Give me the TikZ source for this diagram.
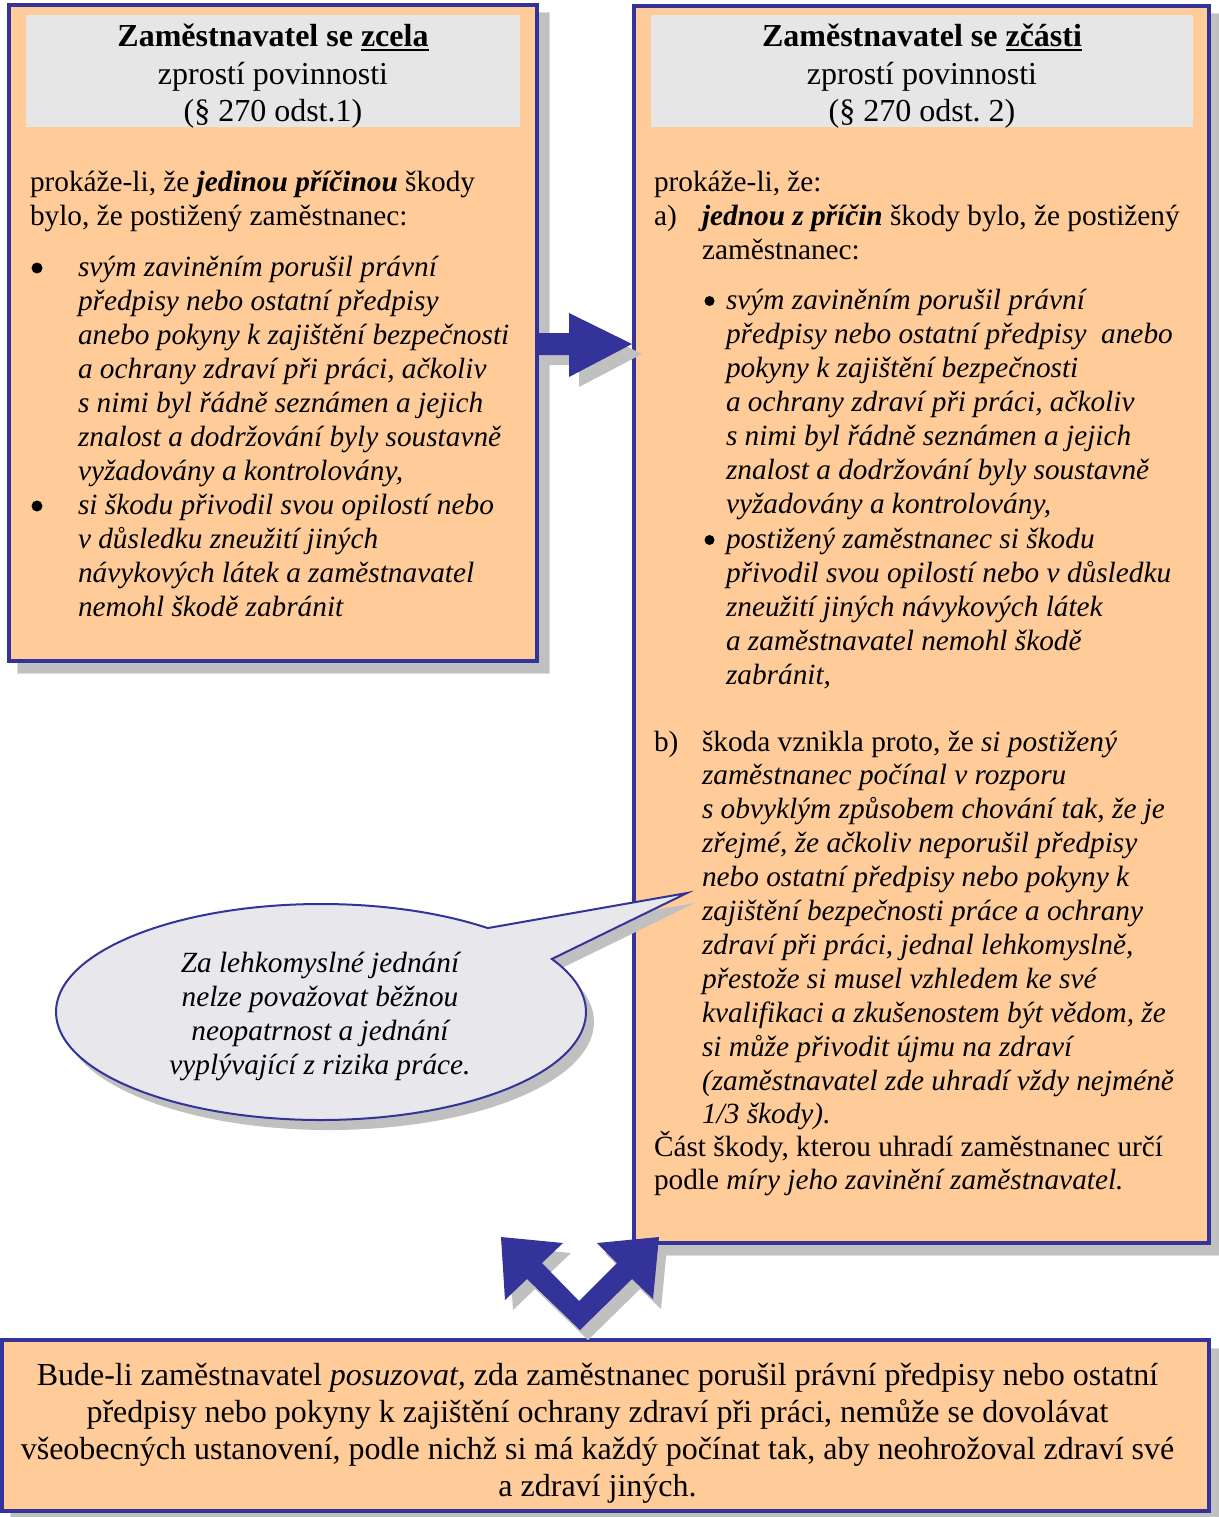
\documentclass[tikz,border=0pt]{standalone}
\usepackage{fontspec}
\setmainfont{Liberation Serif}
\usetikzlibrary{calc}
\definecolor{peach}{HTML}{FFCC99}
\definecolor{boxblue}{HTML}{333399}
\definecolor{hdrgray}{HTML}{E6E6E6}
\definecolor{shgray}{HTML}{C0C0C0}
\definecolor{shedge}{HTML}{DCDCDC}
\definecolor{callgray}{HTML}{E7E7EC}
\frenchspacing
\newcommand\myBody{\fontsize{29.3}{33.9}\selectfont}
\newcommand\myList{\fontsize{29.3}{34}\selectfont}
\newcommand\myBig{\fontsize{32}{37.2}\selectfont}
\newcommand\myblock[2]{\parbox[t]{#1}{\raggedright #2}}
\newcommand\mycblock[2]{\parbox[t]{#1}{\centering #2}}
\newsavebox\myulbox
\newcommand\myul[1]{\sbox\myulbox{#1}\rlap{\rule[-4.5pt]{\wd\myulbox}{2.6pt}}\usebox\myulbox}
\begin{document}
\begin{tikzpicture}[x=1pt,y=-1pt,
  panel/.style={draw=boxblue, line width=4pt, fill=peach},
  shadowbox/.style={fill=shgray, draw=shedge, line width=1pt},
  hdr/.style={fill=hdrgray, draw=none},
  txt/.style={anchor=base west, inner sep=0pt, outer sep=0pt, font=\myBody},
  ctxt/.style={anchor=base, inner sep=0pt, outer sep=0pt},
  bulletdot/.style={circle, fill=black, draw=none, minimum size=11pt, inner sep=0pt},
  blockarrow/.style={fill=boxblue, draw=none},
  arrowshadow/.style={fill=shgray, draw=none},
]
\useasboundingbox (0,0) rectangle (1218,1517);
\fill[white] (0,0) rectangle (1218,1517);

% ---- shadows of boxes
\draw[shadowbox] (17,13) rectangle (549,673);
\draw[shadowbox] (642,14) rectangle (1221,1255);
\draw[shadowbox] (10,1348) rectangle (1221,1522);

% ---- boxes
\draw[panel] (9,5) rectangle (537,661);
\fill[hdr] (26,15) rectangle (520,127);
\draw[panel] (634,6) rectangle (1209,1243);
\fill[hdr] (651,15) rectangle (1193,127);
\draw[panel] (2,1340) rectangle (1209,1511);

% ---- headers
\node[ctxt] (lhead) at (273,47) {\mycblock{480pt}{\myBig\textbf{Zaměstnavatel se \myul{zcela}}\\zprostí povinnosti\\(§ 270 odst.1)}};
\node[ctxt] (rhead) at (922,47) {\mycblock{520pt}{\myBig\textbf{Zaměstnavatel se \myul{zčásti}}\\zprostí povinnosti\\(§ 270 odst. 2)}};

% ---- left box text
\node[txt] (lintro) at (30,192) {\myblock{500pt}{\myBody prokáže-li, že \textbf{\textit{jedinou příčinou}} škody\\bylo, že postižený zaměstnanec:}};
\node[bulletdot] (lb1) at (37,268) {};
\node[bulletdot] (lb2) at (37,506) {};
\node[txt] (llist1) at (78,276) {\myblock{460pt}{\myList\itshape svým zaviněním porušil právní\\předpisy nebo ostatní předpisy\\anebo pokyny k zajištění bezpečnosti\\a ochrany zdraví při práci, ačkoliv\\s nimi byl řádně seznámen a jejich\\znalost a dodržování byly soustavně\\vyžadovány a kontrolovány,}};
\node[txt] (llist2) at (78,514) {\myblock{460pt}{\myList\itshape si škodu přivodil svou opilostí nebo\\v důsledku zneužití jiných\\návykových látek a zaměstnavatel\\nemohl škodě zabránit}};

% ---- right box text
\node[txt] (rintro) at (654,192) {prokáže-li, že:};
\node[txt] (ra) at (654,225.5) {a)};
\node[txt] (ratext) at (702,225.5) {\myblock{500pt}{\myBody\textbf{\textit{jednou z příčin}} škody bylo, že postižený\\zaměstnanec:}};
\node[bulletdot, minimum size=10pt] (rb1) at (709.5,301) {};
\node[bulletdot, minimum size=10pt] (rb2) at (709.5,540) {};
\node[txt] (rlist1) at (726,309) {\myblock{480pt}{\myList\itshape svým zaviněním porušil právní\\předpisy nebo ostatní předpisy~ anebo\\pokyny k zajištění bezpečnosti\\a ochrany zdraví při práci, ačkoliv\\s nimi byl řádně seznámen a jejich\\znalost a dodržování byly soustavně\\vyžadovány a kontrolovány,}};
\node[txt] (rlist2) at (726,548) {\myblock{480pt}{\myList\itshape postižený zaměstnanec si škodu\\přivodil svou opilostí nebo v důsledku\\zneužití jiných návykových látek\\a zaměstnavatel nemohl škodě\\zabránit,}};
\node[txt] (rbl) at (654,751) {b)};
\node[txt] (rbtext) at (702,751) {\myblock{500pt}{\myBody škoda vznikla proto, že \textit{si postižený}\\\textit{zaměstnanec počínal v rozporu}\\\textit{s obvyklým způsobem chování tak, že je}\\\textit{zřejmé, že ačkoliv neporušil předpisy}\\\textit{nebo ostatní předpisy nebo pokyny k}\\\textit{zajištění bezpečnosti práce a ochrany}\\\textit{zdraví při práci, jednal lehkomyslně,}\\\textit{přestože si musel vzhledem ke své}\\\textit{kvalifikaci a zkušenostem být vědom, že}\\\textit{si může přivodit újmu na zdraví}\\\textit{(zaměstnavatel zde uhradí vždy nejméně}\\\textit{1/3 škody).}}};
\node[txt] (rpart) at (654,1156) {\myblock{540pt}{\myBody Část škody, kterou uhradí zaměstnanec určí\\podle \textit{míry jeho zavinění zaměstnavatel.}}};

% ---- bottom box text
\node[ctxt] (bottomtext) at (597.5,1385) {\mycblock{1200pt}{\myBig Bude-li zaměstnavatel \textit{posuzovat,} zda zaměstnanec porušil právní předpisy nebo ostatní\\předpisy nebo pokyny k zajištění ochrany zdraví při práci, nemůže se dovolávat\\všeobecných ustanovení, podle nichž si má každý počínat tak, aby neohrožoval zdraví své\\a zdraví jiných.}};

% ---- callout
\coordinate (cc) at (321,1012);
\coordinate (ctip) at (687,893);
\fill[shgray] ($(cc)+(-51:265 and 108)+(8,10)$) arc[start angle=-51, end angle=-389.4, x radius=265, y radius=108] -- ($(ctip)+(8,10)$) -- cycle;
\draw[boxblue, line width=2pt, fill=callgray, line join=miter] ($(cc)+(-51:265 and 108)$) arc[start angle=-51, end angle=-389.4, x radius=265, y radius=108] -- (ctip) -- cycle;
\node[ctxt] (calltext) at (320,972) {\mycblock{420pt}{\myList\itshape Za lehkomyslné jednání\\nelze považovat běžnou\\neopatrnost a jednání\\vyplývající z rizika práce.}};

% ---- right block arrow (left box -> right box)
\fill[arrowshadow] (548,343) -- (579,343) -- (579,323) -- (642,354) -- (579,387) -- (579,365) -- (548,365) -- cycle;
\fill[blockarrow] (538,333) -- (569,333) -- (569,313) -- (632,344) -- (569,377) -- (569,355) -- (538,355) -- cycle;

% ---- double V arrow
\begin{scope}[shift={(8,10)}]
\fill[arrowshadow] (580,1330) -- (527,1279) -- (505,1300) -- (501,1237) -- (563,1243) -- (542,1263) -- (579,1301) -- (617,1263) -- (597,1243) -- (659,1237) -- (653,1299) -- (632,1279) -- cycle;
\end{scope}
\fill[blockarrow] (580,1330) -- (527,1279) -- (505,1300) -- (501,1237) -- (563,1243) -- (542,1263) -- (579,1301) -- (617,1263) -- (597,1243) -- (659,1237) -- (653,1299) -- (632,1279) -- cycle;
\end{tikzpicture}
\end{document}
